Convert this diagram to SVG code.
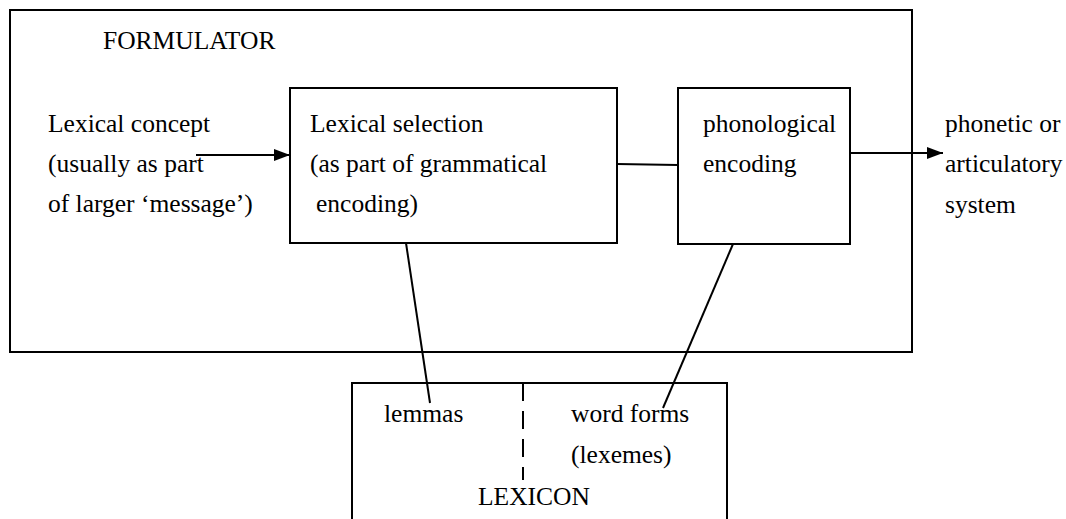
<svg xmlns="http://www.w3.org/2000/svg" width="1066" height="519" viewBox="0 0 1066 519">
<defs>
<marker id="ah" markerWidth="16" markerHeight="12" refX="16" refY="6" orient="auto" markerUnits="userSpaceOnUse">
<path d="M0,0 L16,6 L0,12 Z" fill="#000"/>
</marker>
</defs>
<rect width="1066" height="519" fill="#fff"/>
<g id="formulator">
<rect x="10" y="10" width="902" height="342" fill="none" stroke="#000" stroke-width="2"/>
<text x="103" y="49" font-family="Liberation Serif" font-size="25.5">FORMULATOR</text>
</g>
<g id="lexical-concept">
<text x="48" y="132" font-family="Liberation Serif" font-size="25.5">Lexical concept</text>
<text x="48" y="172" font-family="Liberation Serif" font-size="25.5">(usually as part</text>
<text x="48" y="212" font-family="Liberation Serif" font-size="25.5">of larger &#8216;message&#8217;)</text>
</g>
<g id="lexical-selection">
<rect x="290" y="88" width="327" height="155" fill="none" stroke="#000" stroke-width="2"/>
<text x="310" y="132" font-family="Liberation Serif" font-size="25.5">Lexical selection</text>
<text x="310" y="172" font-family="Liberation Serif" font-size="25.5">(as part of grammatical</text>
<text x="316" y="212" font-family="Liberation Serif" font-size="25.5">encoding)</text>
</g>
<g id="phonological-encoding">
<rect x="678" y="88" width="172" height="156" fill="none" stroke="#000" stroke-width="2"/>
<text x="703" y="132" font-family="Liberation Serif" font-size="25.5">phonological</text>
<text x="703" y="172" font-family="Liberation Serif" font-size="25.5">encoding</text>
</g>
<g id="output-system">
<text x="945" y="132" font-family="Liberation Serif" font-size="25.5">phonetic or</text>
<text x="945" y="172" font-family="Liberation Serif" font-size="25.5">articulatory</text>
<text x="945" y="213" font-family="Liberation Serif" font-size="25.5">system</text>
</g>
<g id="lexicon">
<path d="M352,519 V383 H727 V519" fill="none" stroke="#000" stroke-width="2"/>
<line x1="523" y1="383" x2="523" y2="480" stroke="#000" stroke-width="2" stroke-dasharray="18,10"/>
<text x="384" y="422" font-family="Liberation Serif" font-size="25.5">lemmas</text>
<text x="571" y="422" font-family="Liberation Serif" font-size="25.5">word forms</text>
<text x="571" y="463" font-family="Liberation Serif" font-size="25.5">(lexemes)</text>
<text x="478" y="505" font-family="Liberation Serif" font-size="25.5">LEXICON</text>
</g>
<g id="connectors" stroke="#000" stroke-width="2" fill="none">
<line x1="196" y1="155" x2="290" y2="155" marker-end="url(#ah)"/>
<line x1="850" y1="153" x2="943" y2="153" marker-end="url(#ah)"/>
<line x1="617" y1="164" x2="678" y2="165"/>
<line x1="406" y1="243" x2="430" y2="403"/>
<line x1="733" y1="244" x2="663" y2="408"/>
</g>
</svg>
